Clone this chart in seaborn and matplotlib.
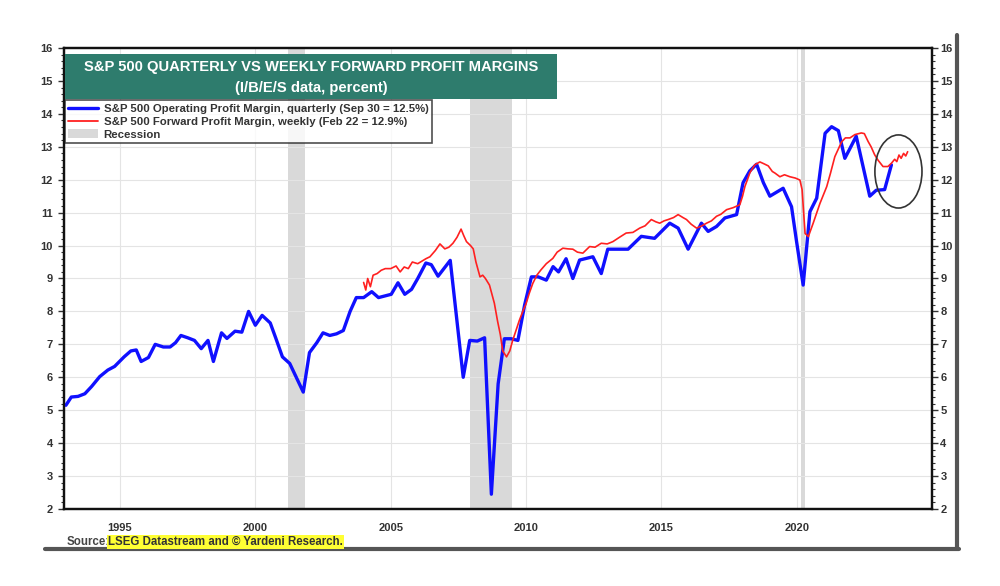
import numpy as np
import pandas as pd
import matplotlib
matplotlib.use("Agg")
import matplotlib.pyplot as plt
from matplotlib.patches import Ellipse, Patch
from matplotlib.lines import Line2D
from matplotlib.ticker import MultipleLocator, FixedLocator
import seaborn as sns

# --- data --------------------------------------------------------------------
op_years = [1993.0, 1993.2, 1993.45, 1993.7, 1993.95, 1994.25, 1994.55, 1994.8,
            1995.15, 1995.4, 1995.6, 1995.78, 1996.05, 1996.3, 1996.6, 1996.85,
            1997.05, 1997.25, 1997.5, 1997.75, 1998.0, 1998.25, 1998.45, 1998.75,
            1998.95, 1999.25, 1999.5, 1999.75, 2000.0, 2000.25, 2000.55, 2000.75,
            2001.0, 2001.27, 2001.77, 2002.0, 2002.27, 2002.5, 2002.75, 2003.0,
            2003.25, 2003.5, 2003.73, 2004.0, 2004.3, 2004.55, 2005.02, 2005.27,
            2005.52, 2005.77, 2006.0, 2006.3, 2006.5, 2006.75, 2007.2, 2007.68,
            2007.92, 2008.2, 2008.47, 2008.72, 2008.97, 2009.2, 2009.45, 2009.7,
            2009.95, 2010.2, 2010.45, 2010.75, 2011.0, 2011.2, 2011.48, 2011.73,
            2011.98, 2012.47, 2012.78, 2013.02, 2013.77, 2014.26, 2014.75, 2015.31,
            2015.62, 2015.99, 2016.48, 2016.73, 2017.04, 2017.35, 2017.78, 2018.02,
            2018.27, 2018.52, 2018.77, 2019.01, 2019.5, 2019.81, 2020.0, 2020.24,
            2020.49, 2020.74, 2021.05, 2021.29, 2021.54, 2021.78, 2021.97, 2022.2,
            2022.7, 2022.94, 2023.25, 2023.5]
op_margin = [5.15, 5.4, 5.42, 5.5, 5.72, 6.02, 6.22, 6.33,
             6.62, 6.8, 6.83, 6.48, 6.6, 7.0, 6.92, 6.92,
             7.05, 7.27, 7.2, 7.12, 6.87, 7.12, 6.48, 7.35,
             7.18, 7.4, 7.37, 8.0, 7.58, 7.88, 7.65, 7.2,
             6.62, 6.42, 5.55, 6.75, 7.05, 7.35, 7.27, 7.32,
             7.42, 8.0, 8.42, 8.42, 8.6, 8.42, 8.52, 8.87,
             8.52, 8.67, 9.0, 9.47, 9.42, 9.07, 9.55, 6.0,
             7.12, 7.1, 7.2, 2.45, 5.8, 7.17, 7.17, 7.12,
             8.2, 9.05, 9.05, 8.95, 9.36, 9.2, 9.6, 9.0,
             9.56, 9.66, 9.15, 9.89, 9.89, 10.28, 10.22, 10.68,
             10.53, 9.89, 10.68, 10.43, 10.58, 10.84, 10.94, 11.91,
             12.27, 12.47, 11.91, 11.5, 11.74, 11.18, 10.1, 8.8,
             11.03, 11.44, 13.41, 13.61, 13.49, 12.65, 12.95, 13.32,
             11.5, 11.68, 11.7, 12.45]

fwd_years = [2004.0, 2004.08, 2004.15, 2004.25, 2004.35, 2004.5, 2004.65, 2004.8,
             2005.0, 2005.2, 2005.35, 2005.5, 2005.65, 2005.8, 2006.0, 2006.1,
             2006.3, 2006.45, 2006.65, 2006.82, 2007.0, 2007.15, 2007.3, 2007.45,
             2007.6, 2007.7, 2007.8, 2007.95, 2008.05, 2008.15, 2008.3, 2008.4,
             2008.5, 2008.65, 2008.75, 2008.83, 2008.95, 2009.05, 2009.14, 2009.28,
             2009.4, 2009.5, 2009.62, 2009.75, 2009.88, 2010.0, 2010.12, 2010.25,
             2010.4, 2010.55, 2010.75, 2010.99, 2011.15, 2011.36, 2011.55, 2011.73,
             2011.9, 2012.1, 2012.35, 2012.55, 2012.78, 2013.0, 2013.21, 2013.45,
             2013.7, 2013.95, 2014.2, 2014.4, 2014.63, 2014.8, 2014.94, 2015.1,
             2015.25, 2015.45, 2015.62, 2015.8, 2015.93, 2016.1, 2016.3, 2016.5,
             2016.67, 2016.85, 2017.04, 2017.2, 2017.41, 2017.65, 2017.9, 2018.0,
             2018.09, 2018.18, 2018.27, 2018.45, 2018.64, 2018.8, 2018.95, 2019.1,
             2019.2, 2019.38, 2019.55, 2019.75, 2019.95, 2020.12, 2020.2, 2020.31,
             2020.43, 2020.61, 2020.86, 2021.11, 2021.25, 2021.41, 2021.55, 2021.66,
             2021.8, 2021.97, 2022.15, 2022.39, 2022.5, 2022.64, 2022.75, 2022.88,
             2023.0, 2023.19, 2023.37, 2023.5, 2023.62, 2023.7, 2023.78, 2023.86,
             2023.95, 2024.03, 2024.1]
fwd_margin = [8.88, 8.65, 9.0, 8.75, 9.1, 9.15, 9.25, 9.3,
              9.3, 9.38, 9.2, 9.35, 9.3, 9.5, 9.45, 9.5,
              9.6, 9.66, 9.85, 10.05, 9.9, 9.95, 10.07, 10.25,
              10.5, 10.3, 10.12, 10.0, 9.9, 9.5, 9.05, 9.1,
              9.0, 8.8, 8.5, 8.25, 7.7, 7.3, 6.8, 6.62,
              6.8, 7.1, 7.4, 7.72, 8.0, 8.23, 8.55, 8.85,
              9.1, 9.26, 9.45, 9.61, 9.8, 9.92, 9.9, 9.89,
              9.8, 9.77, 9.97, 9.95, 10.07, 10.05, 10.12, 10.25,
              10.38, 10.4, 10.53, 10.6, 10.79, 10.72, 10.68, 10.75,
              10.79, 10.85, 10.94, 10.85, 10.79, 10.65, 10.53, 10.6,
              10.68, 10.75, 10.89, 10.95, 11.09, 11.15, 11.24, 11.5,
              11.8, 12.0, 12.21, 12.45, 12.54, 12.48, 12.42, 12.25,
              12.2, 12.09, 12.15, 12.09, 12.05, 11.99, 11.7, 10.37,
              10.27, 10.68, 11.28, 11.79, 12.2, 12.7, 12.95, 13.15,
              13.27, 13.27, 13.37, 13.42, 13.4, 13.16, 13.0, 12.76,
              12.6, 12.4, 12.4, 12.5, 12.62, 12.55, 12.75, 12.65,
              12.8, 12.72, 12.85]

recessions = [(2001.2, 2001.85), (2007.92, 2009.5), (2020.17, 2020.3)]
year_ticks = [1995, 2000, 2005, 2010, 2015, 2020]

op_label = "S&P 500 Operating Profit Margin, quarterly (Sep 30 = 12.5%)"
fwd_label = "S&P 500 Forward Profit Margin, weekly (Feb 22 = 12.9%)"
title1 = "S&P 500 QUARTERLY VS WEEKLY FORWARD PROFIT MARGINS"
title2 = "(I/B/E/S data, percent)"
# -----------------------------------------------------------------------------

sns.set_style("white")
plt.rcParams["font.family"] = ["Liberation Sans", "DejaVu Sans"]

op = pd.DataFrame({"year": op_years, "margin": op_margin})
fwd = pd.DataFrame({"year": fwd_years, "margin": fwd_margin})

fig = plt.figure(figsize=(10, 5.86), dpi=100)
ax = fig.add_axes([0.064, 0.1314, 0.868, 0.7867])

for a, b in recessions:
    ax.axvspan(a, b, color="#d9d9d9", lw=0, zorder=0)

sns.lineplot(data=op, x="year", y="margin", color="#1010ff", lw=2.4, ax=ax,
             estimator=None, sort=False, zorder=3)
sns.lineplot(data=fwd, x="year", y="margin", color="#ff2020", lw=1.2, ax=ax,
             estimator=None, sort=False, zorder=4)

ax.set_xlim(1992.93, 2025.0)
ax.set_ylim(2, 16)
ax.set_xlabel("")
ax.set_ylabel("")
ax.xaxis.set_major_locator(FixedLocator(year_ticks))
ax.xaxis.set_minor_locator(MultipleLocator(1))
ax.yaxis.set_major_locator(MultipleLocator(1))
ax.yaxis.set_minor_locator(MultipleLocator(0.2))
ax.grid(True, which="major", color="#e4e4e4", lw=0.8, zorder=0)
ax.set_axisbelow(True)
for s in ax.spines.values():
    s.set_color("#111111")
    s.set_linewidth(1.6)
ax.tick_params(axis="x", which="major", length=4, width=1, labelsize=8, colors="#333333", pad=6)
ax.tick_params(axis="x", which="minor", length=3, width=1, color="#333333")
ax.tick_params(axis="y", which="major", length=4, width=1, labelsize=8, colors="#333333", pad=4)
ax.tick_params(axis="y", which="minor", length=2, width=0.8, color="#333333")
for t in ax.get_xticklabels() + ax.get_yticklabels():
    t.set_fontweight("bold")

ax2 = ax.twinx()
ax2.set_ylim(2, 16)
ax2.yaxis.set_major_locator(MultipleLocator(1))
ax2.yaxis.set_minor_locator(MultipleLocator(0.2))
ax2.tick_params(axis="y", which="major", length=4, width=1, labelsize=8, colors="#333333", pad=2)
ax2.tick_params(axis="y", which="minor", length=2, width=0.8, color="#333333")
for t in ax2.get_yticklabels():
    t.set_fontweight("bold")
for s in ax2.spines.values():
    s.set_color("#111111")
    s.set_linewidth(1.6)

ax.add_patch(Ellipse((2023.76, 12.25), 1.74, 2.22, fill=False,
                     edgecolor="#333333", lw=1.2, zorder=5))

# title box
fig.patches.append(plt.Rectangle((0.065, 0.831), 0.492, 0.076, transform=fig.transFigure,
                                 facecolor="#2e7c6d", edgecolor="none", zorder=6))
fig.text(0.311, 0.885, title1, color="white", fontsize=10.6, fontweight="bold",
         ha="center", va="center", zorder=7)
fig.text(0.311, 0.849, title2, color="white", fontsize=10.6, fontweight="bold",
         ha="center", va="center", zorder=7)

handles = [Line2D([], [], color="#1010ff", lw=2.4),
           Line2D([], [], color="#ff2020", lw=1.3),
           Patch(facecolor="#d9d9d9", edgecolor="none")]
leg = ax.legend(handles, [op_label, fwd_label, "Recession"], loc="upper left",
                bbox_to_anchor=(0.065, 0.829), bbox_transform=fig.transFigure,
                prop={"size": 8.2, "weight": "bold"}, frameon=True, fancybox=False,
                borderpad=0.3, labelspacing=0.22, handlelength=2.6, handleheight=0.8,
                handletextpad=0.5, borderaxespad=0)
leg.get_frame().set_edgecolor("#222222")
leg.get_frame().set_linewidth(1.2)
leg.set_zorder(8)
for t in leg.get_texts():
    t.set_color("#333333")

# source line
fig.text(0.067, 0.075, "Source:", fontsize=8.3, fontweight="bold", color="#444444",
         ha="left", va="center")
fig.text(0.108, 0.075, "LSEG Datastream and \u00a9 Yardeni Research.", fontsize=8.3,
         fontweight="bold", color="#333333", ha="left", va="center",
         bbox=dict(facecolor="#ffff33", edgecolor="none", pad=1))

# outer frame shadow
fig.add_artist(Line2D([0.045, 0.959], [0.063, 0.063], transform=fig.transFigure,
                      color="#555555", lw=3))
fig.add_artist(Line2D([0.957, 0.957], [0.063, 0.94], transform=fig.transFigure,
                      color="#555555", lw=3))

fig.savefig("out.png", dpi=100)
